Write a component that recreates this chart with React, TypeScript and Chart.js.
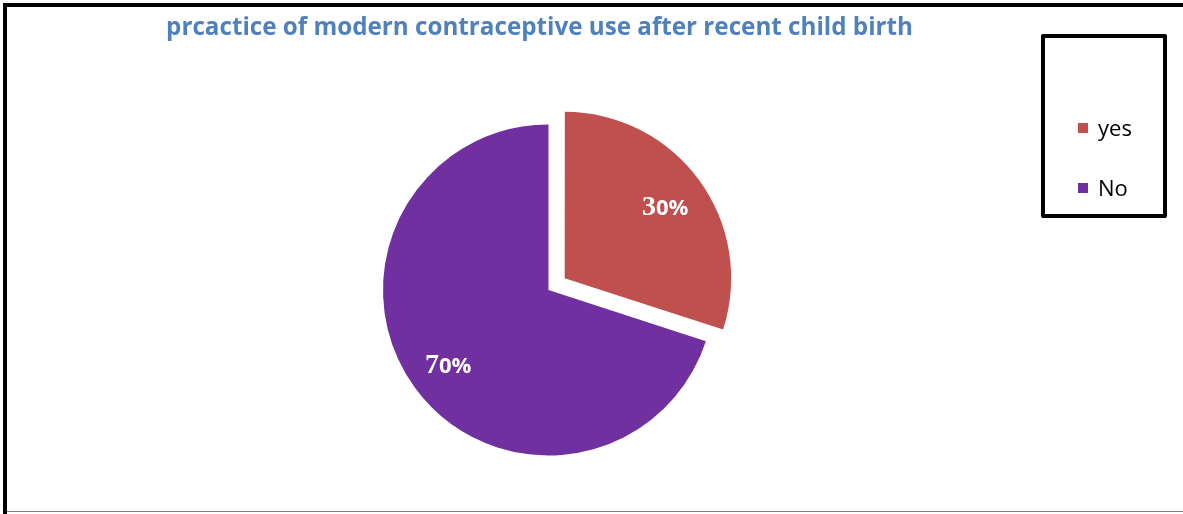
import React, { useEffect, useRef } from "react";
import { Chart, registerables } from "chart.js";

Chart.register(...registerables);

const categories = ["yes", "No"];
const shares = [30, 70];
const sliceColors = ["#C0504D", "#7030A0"];
const sliceOffsets = [80, 0];
const titleText = "prcactice of modern contraceptive use after recent child birth";

const W = 1183;
const H = 514;

const decorPlugin = {
  id: "decor",
  afterDraw(chart: any) {
    const ctx = chart.ctx as CanvasRenderingContext2D;
    ctx.save();
    // outer frame
    ctx.fillStyle = "#000000";
    ctx.fillRect(3, 3, W - 3, 4);
    ctx.fillRect(3, 3, 4, H - 3);
    ctx.fillStyle = "#808080";
    ctx.fillRect(7, 511, W - 7, 1);

    // title, sized to span the same width as the reference
    ctx.font = "bold 22px 'Open Sans'";
    const tw = ctx.measureText(titleText).width;
    const target = 747;
    const size = Math.min(26, (22 * target) / tw);
    ctx.font = `bold ${size.toFixed(2)}px 'Open Sans'`;
    ctx.fillStyle = "#4F81BD";
    ctx.textAlign = "center";
    ctx.textBaseline = "alphabetic";
    ctx.fillText(titleText, 539.5, 35);

    // legend box
    ctx.lineWidth = 4;
    ctx.strokeStyle = "#000000";
    ctx.lineJoin = "round";
    ctx.strokeRect(1043, 36, 122, 180);
    const legendBaselines = [136, 196];
    categories.forEach((lab, i) => {
      ctx.fillStyle = sliceColors[i];
      ctx.fillRect(1078, legendBaselines[i] - 13, 10, 10);
      ctx.fillStyle = "#000000";
      ctx.font = "22px 'Open Sans'";
      ctx.textAlign = "left";
      ctx.textBaseline = "alphabetic";
      ctx.fillText(lab, 1098, legendBaselines[i]);
    });

    // data labels
    const meta = chart.getDatasetMeta(0);
    meta.data.forEach((arc: any, i: number) => {
      const p = arc.getProps(["x", "y", "startAngle", "endAngle", "outerRadius"], true);
      const mid = (p.startAngle + p.endAngle) / 2;
      const d = sliceOffsets[i] / 4 + 0.75 * p.outerRadius;
      const px = p.x + Math.cos(mid) * d;
      const py = p.y + Math.sin(mid) * d;
      const text = `${shares[i]}%`;
      const head = text.slice(0, 1);
      const tail = text.slice(1);
      const fHead = "bold 28px 'Liberation Serif'";
      const fTail = "bold 22px 'Open Sans'";
      ctx.font = fHead;
      const wh = ctx.measureText(head).width;
      ctx.font = fTail;
      const wt = ctx.measureText(tail).width;
      const x0 = px - (wh + wt) / 2;
      const base = py + 10;
      ctx.fillStyle = "#FFFFFF";
      ctx.textAlign = "left";
      ctx.textBaseline = "alphabetic";
      ctx.font = fHead;
      ctx.fillText(head, x0, base);
      ctx.font = fTail;
      ctx.fillText(tail, x0 + wh, base);
    });
    ctx.restore();
  },
};

export default function App() {
  const ref = useRef<HTMLCanvasElement | null>(null);
  useEffect(() => {
    if (!ref.current) return;
    const chart = new Chart(ref.current, {
      type: "pie",
      data: {
        labels: categories,
        datasets: [
          {
            data: shares,
            backgroundColor: sliceColors,
            borderWidth: 0,
            offset: sliceOffsets,
          } as any,
        ],
      },
      options: {
        responsive: false,
        animation: false,
        layout: { padding: { top: 84, bottom: 18, left: 343, right: 429 } },
        plugins: {
          legend: { display: false },
          title: { display: false },
          tooltip: { enabled: false },
        },
      },
      plugins: [decorPlugin],
    });
    return () => chart.destroy();
  }, []);
  return (
    <div style={{ position: "absolute", left: 0, top: 0, width: W, height: H, background: "#ffffff" }}>
      <canvas ref={ref} width={W} height={H} style={{ display: "block" }} />
    </div>
  );
}
